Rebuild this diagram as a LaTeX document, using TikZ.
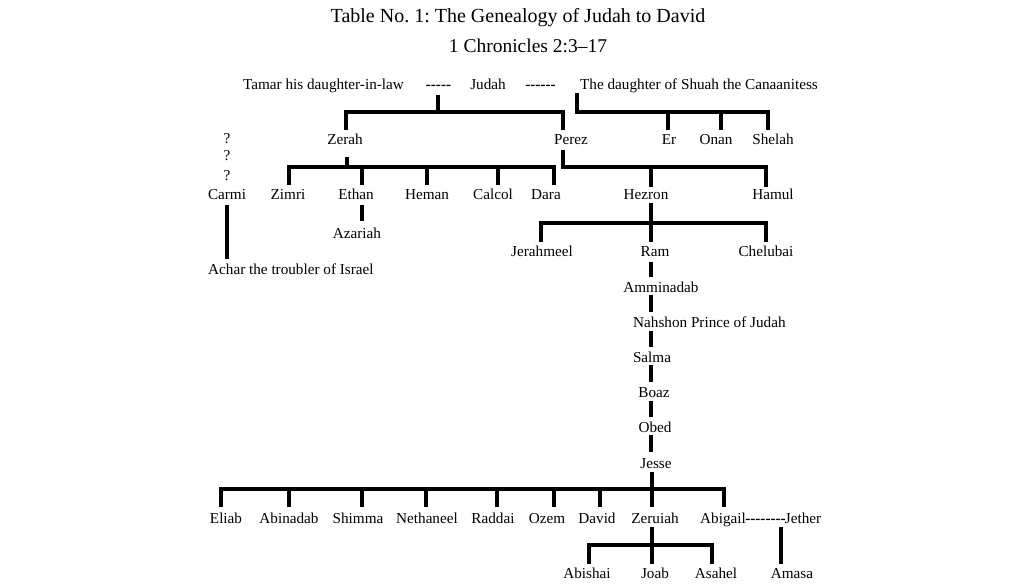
\documentclass[tikz,border=0pt]{standalone}
\usepackage{fontspec}
\setmainfont{Liberation Serif}
\frenchspacing
\newcommand\hk{-\kern0pt}
\begin{document}
\begin{tikzpicture}[x=1pt,y=-1pt,
  lbl/.style={inner sep=0pt, anchor=base, font=\fontsize{15.2}{18}\selectfont},
  dsh/.style={inner sep=0pt, anchor=base, font=\fontsize{15.2}{18}\selectfont\bfseries},
  link/.style={line width=3.1pt, line join=miter}]
\useasboundingbox (0,0) rectangle (1024,585);
\fill[white] (0,0) rectangle (1024,585);
% titles
\node[inner sep=0pt, anchor=base, font=\fontsize{20}{24}\selectfont] (title) at (518,23) {Table No.\ 1: The Genealogy of Judah to David};
\node[inner sep=0pt, anchor=base, font=\fontsize{19.5}{23}\selectfont] (subtitle) at (528,53) {1 Chronicles 2:3–17};
% row 1
\node[lbl] (tamar) at (323.5,90) {Tamar his daughter-in-law};
\node[dsh] (dashA) at (438.5,90) {\hk\hk\hk\hk-};
\node[lbl] (judah) at (488,90) {Judah};
\node[dsh] (dashB) at (540.5,90) {\hk\hk\hk\hk\hk-};
\node[lbl] (shuah) at (699,90) {The daughter of Shuah the Canaanitess};
% row 2
\node[lbl] (zerah) at (345,145) {Zerah};
\node[lbl] (perez) at (571,145) {Perez};
\node[lbl] (er) at (669,145) {Er};
\node[lbl] (onan) at (716,145) {Onan};
\node[lbl] (shelah) at (773,145) {Shelah};
\node[lbl] (q1) at (227,144) {?};
\node[lbl] (q2) at (227,161) {?};
\node[lbl] (q3) at (227,181) {?};
% row 3
\node[lbl] (carmi) at (227,200) {Carmi};
\node[lbl] (zimri) at (288,200) {Zimri};
\node[lbl] (ethan) at (356,200) {Ethan};
\node[lbl] (heman) at (427,200) {Heman};
\node[lbl] (calcol) at (493,200) {Calcol};
\node[lbl] (dara) at (546,200) {Dara};
\node[lbl] (hezron) at (646,200) {Hezron};
\node[lbl] (hamul) at (773,200) {Hamul};
\node[lbl] (azariah) at (357,238) {Azariah};
% row 4
\node[lbl] (jerahmeel) at (542,256) {Jerahmeel};
\node[lbl] (ram) at (655,256) {Ram};
\node[lbl] (chelubai) at (766,256) {Chelubai};
\node[lbl, anchor=base west] (achar) at (208,274) {Achar the troubler of Israel};
% chain
\node[lbl] (amminadab) at (661,292) {Amminadab};
\node[lbl, anchor=base west] (nahshon) at (633,327) {Nahshon Prince of Judah};
\node[lbl] (salma) at (652,362) {Salma};
\node[lbl] (boaz) at (654,397) {Boaz};
\node[lbl] (obed) at (655,432) {Obed};
\node[lbl] (jesse) at (656,468) {Jesse};
% Jesse's children
\node[lbl] (eliab) at (226,523) {Eliab};
\node[lbl] (abinadab) at (289,523) {Abinadab};
\node[lbl] (shimma) at (358,523) {Shimma};
\node[lbl] (nethaneel) at (427,523) {Nethaneel};
\node[lbl] (raddai) at (493,523) {Raddai};
\node[lbl] (ozem) at (547,523) {Ozem};
\node[lbl] (david) at (597,523) {David};
\node[lbl] (zeruiah) at (655,523) {Zeruiah};
\node[lbl] (abigail) at (723,523) {Abigail};
\node[dsh] (dashC) at (765.5,523) {\hk\hk\hk\hk\hk\hk\hk-};
\node[lbl] (jether) at (803,523) {Jether};
% bottom row
\node[lbl] (abishai) at (587,578) {Abishai};
\node[lbl] (joab) at (655,578) {Joab};
\node[lbl] (asahel) at (716,578) {Asahel};
\node[lbl] (amasa) at (792,578) {Amasa};

% connectors
% Judah + Tamar -> Zerah, Perez
\draw[link] (438,95) -- (438,112);
\draw[link] (346,130) -- (346,112) -- (563,112) -- (563,130);
% daughter of Shuah -> Er, Onan, Shelah
\draw[link] (577,93) -- (577,112) -- (768,112) -- (768,130);
\draw[link] (668,112) -- (668,130);
\draw[link] (721,112) -- (721,130);
% Zerah -> sons
\draw[link] (347,157) -- (347,167);
\draw[link] (289,185) -- (289,167) -- (554,167) -- (554,185);
\foreach \xx in {362,427,498} \draw[link] (\xx,167) -- (\xx,185);
% Perez -> Hezron, Hamul
\draw[link] (563,150) -- (563,167) -- (766,167) -- (766,187);
\draw[link] (651,167) -- (651,187);
% Carmi -> Achar
\draw[link] (227,205) -- (227,259);
% Ethan -> Azariah
\draw[link] (362,205) -- (362,221);
% Hezron -> sons
\draw[link] (651,203) -- (651,242);
\draw[link] (541,242) -- (541,223) -- (766,223) -- (766,242);
% chain
\draw[link] (651,262) -- (651,277);
\draw[link] (651,295) -- (651,312);
\draw[link] (651,331) -- (651,347);
\draw[link] (651,365) -- (651,382);
\draw[link] (651,401) -- (651,417);
\draw[link] (651,435) -- (651,452);
% Jesse -> children
\draw[link] (652,472) -- (652,489);
\draw[link] (221,507) -- (221,489) -- (724,489) -- (724,507);
\foreach \xx in {289,362,426,497,554,600,652} \draw[link] (\xx,489) -- (\xx,507);
% Zeruiah -> sons
\draw[link] (652,527) -- (652,564);
\draw[link] (589,564) -- (589,545) -- (712,545) -- (712,564);
% Jether -> Amasa
\draw[link] (781,527) -- (781,564);
\end{tikzpicture}
\end{document}
